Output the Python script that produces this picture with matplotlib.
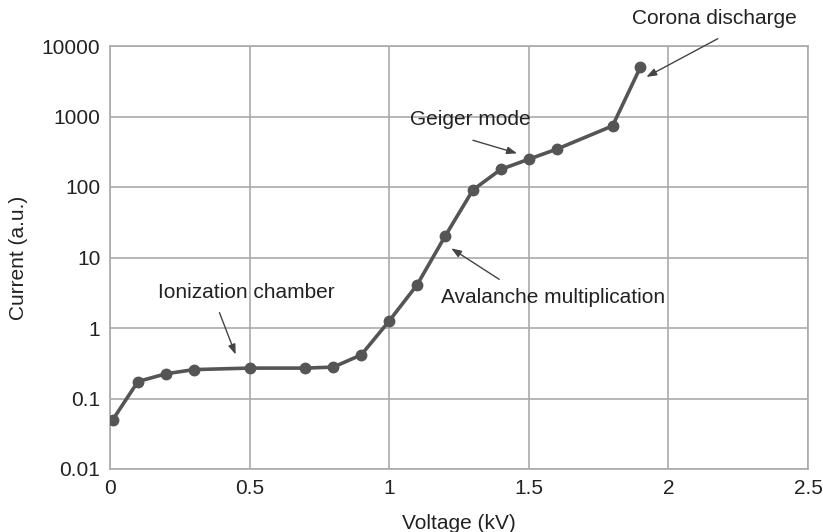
import matplotlib
matplotlib.use('Agg')
import matplotlib.pyplot as plt
from matplotlib.ticker import FixedLocator, FixedFormatter, NullLocator

# ─── Data ─────────────────────────────────────────────────────────────────────
voltage = [0.01, 0.1, 0.2, 0.3, 0.5, 0.7, 0.8, 0.9, 1.0, 1.1, 1.2, 1.3,
           1.4, 1.5, 1.6, 1.8, 1.9]
current = [0.05, 0.174, 0.224, 0.257, 0.27, 0.27, 0.279, 0.416, 1.26, 4.1,
           20, 91, 178, 248, 344, 736, 5040]

x_ticks = [0, 0.5, 1, 1.5, 2, 2.5]
x_tick_labels = ['0', '0.5', '1', '1.5', '2', '2.5']
y_ticks = [0.01, 0.1, 1, 10, 100, 1000, 10000]
y_tick_labels = ['0.01', '0.1', '1', '10', '100', '1000', '10000']

# label, text centre, arrow start, arrow tip (data coords)
notes = [
    ('Ionization chamber',       (0.489, 3.2),   (0.392, 1.65),  (0.45, 0.42)),
    ('Avalanche multiplication', (1.587, 2.73),  (1.394, 4.9),   (1.222, 13.5)),
    ('Geiger mode',              (1.290, 916),   (1.30, 460),    (1.458, 300)),
    ('Corona discharge',         (2.166, 24400), (2.177, 12700), (1.921, 3640)),
]
# ──────────────────────────────────────────────────────────────────────────────

plt.rcParams['font.family'] = ['Liberation Sans', 'DejaVu Sans']

LINE = '#555555'
GRID = '#aaaaaa'
TEXT = '#222222'
FS = 15

fig = plt.figure(figsize=(8.23, 5.32), dpi=100)
ax = fig.add_axes([110 / 823, 1 - 469 / 532, 698 / 823, 423 / 532])

ax.plot(voltage, current, color=LINE, linewidth=2.6, marker='o',
        markersize=7.5, markerfacecolor=LINE, markeredgecolor=LINE, zorder=3)

ax.set_yscale('log')
ax.set_xlim(0, 2.5)
ax.set_ylim(0.01, 10000)

ax.xaxis.set_major_locator(FixedLocator(x_ticks))
ax.xaxis.set_major_formatter(FixedFormatter(x_tick_labels))
ax.yaxis.set_major_locator(FixedLocator(y_ticks))
ax.yaxis.set_major_formatter(FixedFormatter(y_tick_labels))
ax.yaxis.set_minor_locator(NullLocator())

ax.grid(True, color=GRID, linewidth=1.2)
ax.set_axisbelow(True)
for sp in ax.spines.values():
    sp.set_color(GRID)
    sp.set_linewidth(1.2)

ax.tick_params(length=0, labelsize=FS, colors=TEXT)
ax.tick_params(axis='y', pad=7)
ax.tick_params(axis='x', pad=7)

ax.set_xlabel('Voltage (kV)', fontsize=FS, color=TEXT, labelpad=12)
ax.set_ylabel('Current (a.u.)', fontsize=FS, color=TEXT, labelpad=10)

for label, (tx, ty), (sx, sy), (ex, ey) in notes:
    ax.annotate('', xy=(ex, ey), xytext=(sx, sy), annotation_clip=False,
                arrowprops=dict(arrowstyle='-|>,head_length=0.6,head_width=0.22',
                                color='#444444', linewidth=1.0,
                                shrinkA=0, shrinkB=0))
    ax.text(tx, ty, label, fontsize=FS, color=TEXT, ha='center',
            va='center', clip_on=False)

fig.savefig('out.png', dpi=100)
